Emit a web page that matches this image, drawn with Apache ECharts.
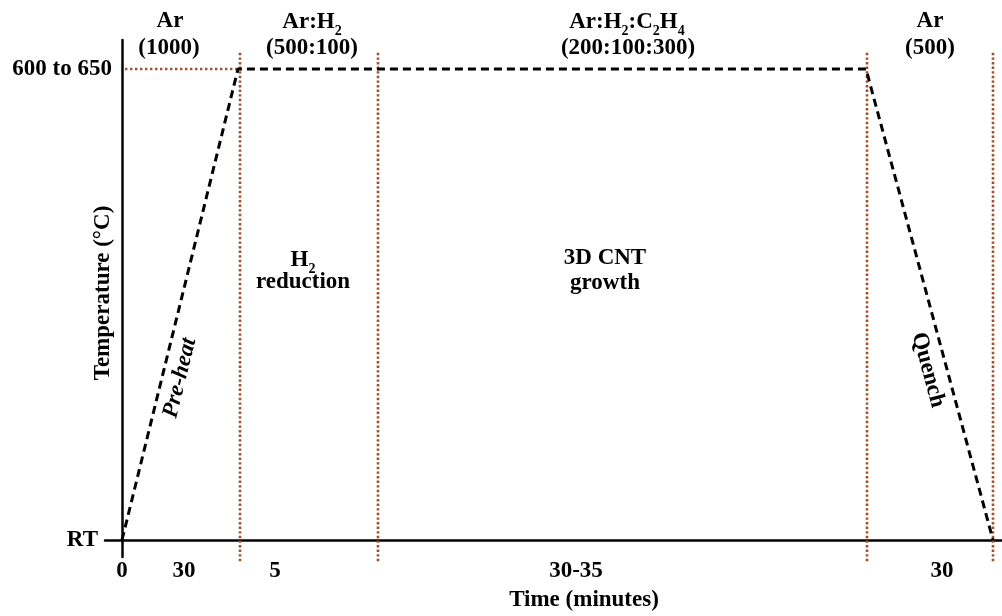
<!DOCTYPE html>
<html>
<head>
<meta charset="utf-8">
<script src="https://cdn.jsdelivr.net/npm/echarts@6/dist/echarts.min.js"></script>
<style>html,body{margin:0;padding:0;background:#fff;}#c{width:1002px;height:616px;}</style>
</head>
<body>
<div id="c"></div>
<script>
// Abstract (not-to-scale) time positions and temperature levels (RT = 0, plateau = 100)
const profileX = [0, 116, 744, 871];
const profileY = [0, 100, 100, 0];
const stageBoundaries = [118, 256, 745, 871];
const preheatGuideX = [3, 116];
const tempLevels = [0, 100];
const tempLabels = ['RT', '600 to 650'];
const timeTickPos = [0, 62, 153, 454, 820];
const timeTickLabels = ['0', '30', '5', '30-35', '30'];

const FONT = 'Liberation Serif';
const FS = 23;
const BROWN = '#a0502a';

const chart = echarts.init(document.getElementById('c'));

const profileData = profileX.map((x, i) => [x, profileY[i]]);
const series = [{
  type: 'line', data: profileData, symbol: 'none', clip: false, z: 3,
  lineStyle: { color: '#000', width: 3, type: [8, 5] }
}, {
  type: 'line', data: preheatGuideX.map(x => [x, 100]), symbol: 'none', clip: false, z: 2,
  lineStyle: { color: BROWN, width: 2.6, type: [2.4, 2.6] }
}];
stageBoundaries.forEach(x => {
  series.push({
    type: 'line', data: [[x, -4.5], [x, 103.6]], symbol: 'none', clip: false, z: 2,
    lineStyle: { color: BROWN, width: 2.6, type: [2.4, 2.2] }
  });
});

chart.setOption({
  animation: false,
  grid: { left: 105, right: 0, top: 40, bottom: 59 },
  xAxis: {
    type: 'value', min: -17, max: 880,
    splitLine: { show: false },
    axisLine: { onZero: true, lineStyle: { color: '#000', width: 2.5 } },
    axisTick: { show: false },
    axisLabel: {
      customValues: timeTickPos, margin: 3,
      formatter: v => timeTickLabels[timeTickPos.indexOf(v)],
      fontFamily: FONT, fontWeight: 'bold', fontSize: FS, color: '#000'
    }
  },
  yAxis: {
    type: 'value', min: -3.609, max: 106.157,
    splitLine: { show: false },
    axisLine: { onZero: true, lineStyle: { color: '#000', width: 2.5 } },
    axisTick: { show: false },
    axisLabel: {
      customValues: tempLevels, margin: -7,
      formatter: v => v === 0 ? '{rt|' + tempLabels[0] + '}' : tempLabels[1],
      fontFamily: FONT, fontWeight: 'bold', fontSize: FS, color: '#000',
      rich: { rt: { fontFamily: FONT, fontWeight: 'bold', fontSize: FS, color: '#000', padding: [0, 14, 0, 0] } }
    }
  },
  series: series
});

// annotations
const richSub = {
  b: { fontFamily: FONT, fontWeight: 'bold', fontSize: FS, fill: '#000', lineHeight: 32, verticalAlign: 'middle' },
  s: { fontFamily: FONT, fontWeight: 'bold', fontSize: 14, fill: '#000', lineHeight: 14, verticalAlign: 'bottom' }
};
const FONTSTR = 'bold ' + FS + 'px "Liberation Serif"';
function txt(text, x, y) {
  return { type: 'text', x: x, y: y, z: 10,
    style: { text: text, font: FONTSTR, fill: '#000', align: 'center', verticalAlign: 'middle' } };
}
function rtxt(text, x, y) {
  return { type: 'text', x: x, y: y, z: 10, style: { text: text, rich: richSub, align: 'center', verticalAlign: 'middle' } };
}

const p0 = chart.convertToPixel({ gridIndex: 0 }, profileData[0]);
const p1 = chart.convertToPixel({ gridIndex: 0 }, profileData[1]);
const p2 = chart.convertToPixel({ gridIndex: 0 }, profileData[2]);
const p3 = chart.convertToPixel({ gridIndex: 0 }, profileData[3]);
const a1 = Math.atan2(p0[1] - p1[1], p1[0] - p0[0]);
const a2 = Math.atan2(p2[1] - p3[1], p3[0] - p2[0]);

const graphics = [
  txt('Ar', 170, 21), txt('(1000)', 169, 48),
  rtxt('{b|Ar:H}{s|2}', 312, 22), txt('(500:100)', 312, 48),
  rtxt('{b|Ar:H}{s|2}{b|:C}{s|2}{b|H}{s|4}', 627, 22), txt('(200:100:300)', 628, 48),
  txt('Ar', 930, 21), txt('(500)', 930, 48),
  rtxt('{b|H}{s|2}', 303, 260), txt('reduction', 303, 282),
  txt('3D CNT', 605, 258), txt('growth', 605, 283),
  { type: 'text', x: 180, y: 378, rotation: a1, z: 10,
    style: { text: 'Pre-heat', font: 'italic ' + FONTSTR, fill: '#000', align: 'center', verticalAlign: 'middle' } },
  { type: 'text', x: 928, y: 370, rotation: a2, z: 10,
    style: { text: 'Quench', font: FONTSTR, fill: '#000', align: 'center', verticalAlign: 'middle' } },
  { type: 'text', x: 103, y: 293, rotation: Math.PI / 2, z: 10,
    style: { text: 'Temperature (°C)', font: FONTSTR, fill: '#000', align: 'center', verticalAlign: 'middle' } },
  txt('Time (minutes)', 584, 600)
];
chart.setOption({ graphic: graphics });
</script>
</body>
</html>
